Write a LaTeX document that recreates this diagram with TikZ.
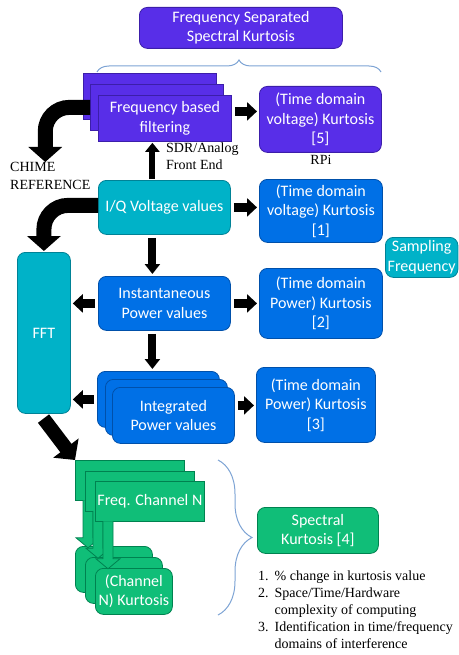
\documentclass[tikz,border=0pt]{standalone}
\usepackage{fontspec}
\setmainfont{Liberation Serif}
\newfontfamily\boxfont{Carlito}
\usepackage{tikz}
\usetikzlibrary{calc}
\usetikzlibrary{arrows.meta}
\usetikzlibrary{decorations.pathreplacing}
\definecolor{sspurple}{RGB}{88,46,232}
\definecolor{sspurpled}{RGB}{60,30,170}
\definecolor{ssteal}{RGB}{0,178,200}
\definecolor{sstealdk}{RGB}{0,130,150}
\definecolor{ssblue}{RGB}{0,112,230}
\definecolor{ssbluedk}{RGB}{0,80,170}
\definecolor{ssgreen}{RGB}{16,190,120}
\definecolor{ssgreendk}{RGB}{0,130,80}
\definecolor{ssbrace}{RGB}{125,163,212}

\begin{document}
\begin{tikzpicture}[x=1pt, y=-1pt,
  box/.style={anchor=north west, draw, line width=0.8pt, rounded corners=8pt,
    text=white, align=center, inner sep=2pt,
    font=\boxfont\fontsize{16}{19.5}\selectfont},
  wh/.style 2 args={minimum width=#1, minimum height=#2},
  purplebox/.style={box, fill=sspurple, draw=sspurpled},
  tealbox/.style={box, fill=ssteal, draw=sstealdk},
  bluebox/.style={box, fill=ssblue, draw=ssbluedk},
  greenbox/.style={box, fill=ssgreen, draw=ssgreendk},
  note/.style={anchor=north west, align=left, inner sep=0pt,
    font=\fontsize{14}{17}\selectfont},
  blockarrow/.style={line width=9pt, -{Triangle[length=10pt,width=18pt]},
    shorten <=3pt, shorten >=2pt},
  thinarrow/.style={line width=6pt, -{Triangle[length=9pt,width=14pt]},
    shorten <=1pt, shorten >=1pt},
  bendarrow/.style={line width=15pt, -{Triangle[length=15pt,width=33pt]},
    rounded corners=24pt},
  chanarrow/.style={fill=ssgreen, draw=ssgreendk, line width=0.8pt},
  bracestyle/.style={draw=ssbrace, line width=1pt, decorate}]

\useasboundingbox (0,0) rectangle (458,655);

% top of the chain
\node[purplebox, wh={203pt}{41pt}] (title) at (139,7)
  {Frequency Separated\\Spectral Kurtosis};
\draw[bracestyle, decoration={brace, amplitude=12pt}] (97,72) -- (381,72);

% frequency based filtering (three layers)
\foreach \i/\x/\y in {0/83/73,1/90/84}
  \node[purplebox, wh={133pt}{46pt}, sharp corners] (fb\i) at (\x,\y) {};
\node[purplebox, wh={133pt}{46pt}, sharp corners] (fb2) at (98,95)
  {Frequency based\\filtering};
\node[purplebox, wh={122pt}{66pt}] (k5) at (259,86)
  {(Time domain\\voltage) Kurtosis\\{}[5]};
\node[note, anchor=center] (rpi) at (321,160) {RPi};

\node[note, font=\fontsize{14}{16.5}\selectfont] (sdr) at (166,143)
  {SDR/Analog\\Front End};
\node[note, font=\fontsize{14}{18}\selectfont] (chime) at (10,162)
  {CHIME\\REFERENCE};

% time domain values
\node[tealbox, wh={132pt}{54pt}] (iq) at (98,180) {I/Q Voltage values};
\node[bluebox, wh={123pt}{63pt}] (k1) at (259,179)
  {(Time domain\\voltage) Kurtosis\\{}[1]};
\node[tealbox, wh={72.5pt}{40pt}] (samp) at (385,237) {Sampling\\Frequency};

\node[tealbox, wh={53pt}{161pt}] (fft) at (17,252) {FFT};

\node[bluebox, wh={132pt}{54pt}] (inst) at (98,276)
  {Instantaneous\\Power values};
\node[bluebox, wh={123pt}{70pt}] (k2) at (259,268)
  {(Time domain\\Power) Kurtosis\\{}[2]};

% integrated power (three layers)
\foreach \i/\x/\y in {0/97/371,1/105/379}
  \node[bluebox, wh={122pt}{56pt}] (ip\i) at (\x,\y) {};
\node[bluebox, wh={122pt}{56pt}] (ip2) at (112,387) {Integrated\\Power values};
\node[bluebox, wh={119pt}{75pt}] (k3) at (256,367)
  {(Time domain\\Power) Kurtosis\\{}[3]};

% frequency channels, each with its own kurtosis
\foreach \i/\ftext/\ktext in {0/{}/{},1/{}/{},2/{Freq. Channel N}/{(Channel\\N) Kurtosis}}
{
  \node[greenbox, wh={109pt}{40pt}, sharp corners, inner sep=1pt] (fc\i)
    at ({75+10*\i},{460+10.5*\i}) {\ftext};
  \node[greenbox, wh={77pt}{46pt}] (ck\i) at ({75+10*\i},{546+11*\i}) {\ktext};
  \path[chanarrow] ($(fc\i.south west)+(8,-0.5)$) -- ++(0,37.5) -- ++(-7,0)
    -- ++(12,10) -- ++(12,-10) -- ++(-7,0) -- ++(0,-37.5);
}
\draw[bracestyle, decoration={brace, amplitude=34pt}] (218,460) -- (218,615);
\node[greenbox, wh={121pt}{46pt}] (sk) at (257,507) {Spectral\\Kurtosis [4]};

\node[note] (list) at (258,568) {%
  \begin{tabular}{@{}l@{\hspace{6pt}}l@{}}
    1. & \% change in kurtosis value\\
    2. & Space/Time/Hardware\\
       & complexity of computing\\
    3. & Identification in time/frequency\\
       & domains of interference
  \end{tabular}};

% straight arrows
\draw[blockarrow] ([yshift=7pt]fb2.east) -- ([yshift=7pt]fb2.east -| k5.west);
\draw[blockarrow] (iq.east) -- (iq.east -| k1.west);
\draw[blockarrow] (inst.east) -- (inst.east -| k2.west);
\draw[blockarrow] ([yshift=10pt]ip2.east) -- ([yshift=10pt]ip2.east -| k3.west);
\draw[blockarrow] (inst.west) -- (inst.west -| fft.east);
\draw[blockarrow] (ip0.west) -- (ip0.west -| fft.east);
\draw[blockarrow, line width=8pt, -{Triangle[length=10pt,width=15pt]}]
  ([xshift=-12pt]iq.south) -- ([xshift=-12pt]iq.south |- inst.north);
\draw[blockarrow, line width=8pt, -{Triangle[length=10pt,width=15pt]}]
  ([xshift=-12pt]inst.south) -- ([xshift=-12pt]inst.south |- ip0.north);
\draw[thinarrow] ([xshift=-12pt]iq.north) -- ([xshift=-12pt]iq.north |- fb2.south);

% bent arrows
\draw[bendarrow] (fb1.west) -| ([xshift=-5pt]chime.north);
\draw[bendarrow, shorten >=1pt] ([yshift=2pt]iq.west) -| (fft.north);
\draw[line width=14pt, -{Triangle[length=15pt,width=31pt]}, shorten <=6pt]
  ([xshift=-4pt]fft.south) -- (fc0.north west);
\end{tikzpicture}
\end{document}
